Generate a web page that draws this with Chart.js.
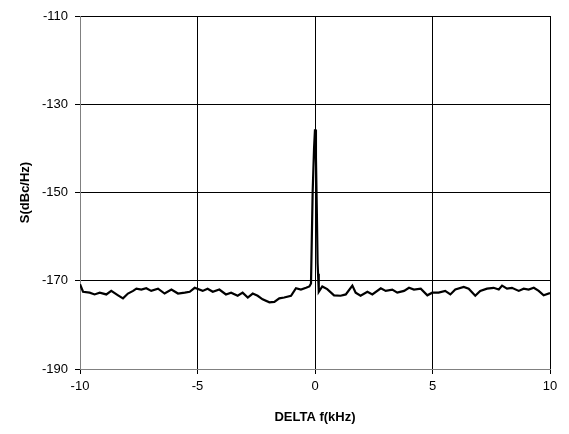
<!DOCTYPE html>
<html>
<head>
<meta charset="utf-8">
<script src="https://cdn.jsdelivr.net/npm/chart.js@4.4.1/dist/chart.umd.min.js"></script>
<style>
  html, body { margin: 0; padding: 0; background: #fff; }
  #wrap { width: 569px; height: 434px; }
</style>
</head>
<body>
<div id="wrap"><canvas id="spectrum"></canvas></div>
<script>
// Phase-noise spectrum S(dBc/Hz) vs offset frequency (kHz)
const FREQ_KHZ = [
  -10.0, -9.87, -9.59, -9.38, -9.16, -8.88, -8.67, -8.38, -8.17, -7.96,
  -7.74, -7.6, -7.39, -7.18, -6.97, -6.68, -6.4, -6.11, -5.83, -5.54,
  -5.33, -5.12, -4.78, -4.57, -4.35, -4.07, -3.79, -3.57, -3.29, -3.08,
  -2.86, -2.65, -2.44, -2.23, -1.94, -1.73, -1.52, -1.31, -1.02, -0.81,
  -0.6, -0.38, -0.24, -0.17, -0.1, -0.04, 0.0, 0.04, 0.08, 0.11,
  0.13, 0.15, 0.17, 0.31, 0.52, 0.81, 1.09, 1.31, 1.59, 1.73,
  1.94, 2.23, 2.44, 2.8, 3.01, 3.29, 3.5, 3.79, 4.0, 4.21,
  4.5, 4.78, 4.99, 5.26, 5.54, 5.76, 5.97, 6.33, 6.54, 6.82,
  7.03, 7.32, 7.6, 7.82, 7.96, 8.17, 8.38, 8.67, 8.88, 9.09,
  9.31, 9.52, 9.73, 10.0
];
const NOISE_DBC = [
  -170.8, -172.5, -172.7, -173.1, -172.7, -173.1, -172.3, -173.3, -174.0, -172.9,
  -172.3, -171.8, -172.0, -171.7, -172.3, -171.8, -172.9, -172.0, -172.9, -172.7,
  -172.5, -171.6, -172.3, -171.8, -172.5, -172.0, -173.1, -172.7, -173.4, -172.7,
  -173.8, -172.9, -173.4, -174.2, -174.9, -174.8, -174.0, -173.8, -173.4, -171.7,
  -172.0, -171.6, -171.3, -170.6, -150.0, -140.0, -135.7, -142.0, -155.0, -166.0,
  -168.4, -171.5, -172.5, -171.3, -171.9, -173.3, -173.4, -173.1, -171.1, -172.7,
  -173.4, -172.5, -173.1, -171.7, -172.3, -172.0, -172.7, -172.3, -171.6, -172.0,
  -171.8, -173.3, -172.7, -172.7, -172.3, -173.1, -172.0, -171.4, -171.8, -173.4,
  -172.3, -171.8, -171.6, -172.0, -171.1, -171.8, -171.6, -172.3, -171.8, -172.0,
  -171.6, -172.3, -173.3, -172.8
];
const X_TICKS = [-10, -5, 0, 5, 10];
const Y_TICKS = [-190, -170, -150, -130, -110];

const FONT = 'Liberation Sans, Arial, sans-serif';

new Chart(document.getElementById('spectrum'), {
  type: 'scatter',
  data: {
    datasets: [{
      data: FREQ_KHZ.map((f, i) => ({ x: f, y: NOISE_DBC[i] })),
      showLine: true,
      borderColor: '#000',
      borderWidth: 2.2,
      pointRadius: 0,
      tension: 0
    }]
  },
  options: {
    responsive: true,
    maintainAspectRatio: false,
    animation: false,
    layout: { padding: { left: 0, top: 16, right: 19, bottom: 0 } },
    plugins: { legend: { display: false }, tooltip: { enabled: false } },
    scales: {
      x: {
        type: 'linear',
        min: -10,
        max: 10,
        afterBuildTicks: s => { s.ticks = X_TICKS.map(v => ({ value: v })); },
        afterFit: s => { s.height = 65; },
        border: { color: '#808080', width: 1 },
        grid: { color: '#000', lineWidth: 1, tickLength: 5, tickColor: '#000' },
        ticks: { color: '#000', font: { family: FONT, size: 13 }, padding: 5, maxRotation: 0 },
        title: {
          display: true,
          text: 'DELTA f(kHz)',
          color: '#000',
          font: { family: FONT, size: 13, weight: 'bold' },
          padding: { top: 2, bottom: 9 }
        }
      },
      y: {
        min: -190,
        max: -110,
        afterBuildTicks: s => { s.ticks = Y_TICKS.map(v => ({ value: v })); },
        afterFit: s => { s.width = 80; },
        border: { color: '#808080', width: 1 },
        grid: { color: '#000', lineWidth: 1, tickLength: 5, tickColor: '#000' },
        ticks: { color: '#000', font: { family: FONT, size: 13 }, padding: 7 },
        title: {
          display: true,
          text: 'S(dBc/Hz)',
          color: '#000',
          font: { family: FONT, size: 13, weight: 'bold' },
          padding: { top: 18, bottom: 4 }
        }
      }
    }
  }
});
</script>
</body>
</html>
